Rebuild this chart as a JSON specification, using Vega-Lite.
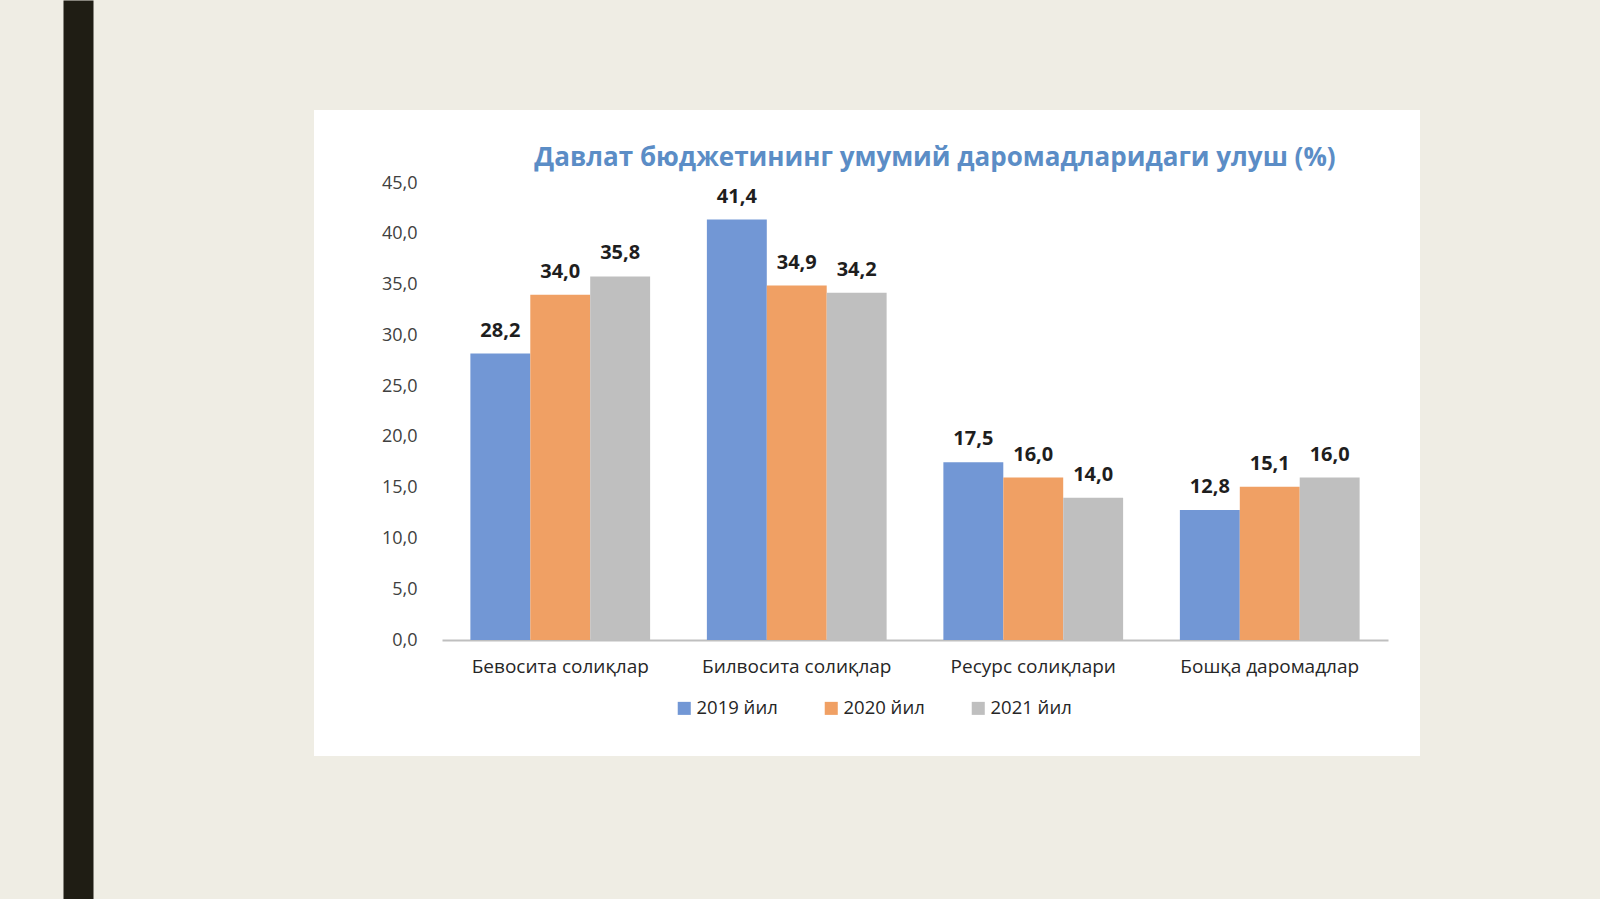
{
  "$schema": "https://vega.github.io/schema/vega-lite/v6.json",
  "description": "Davlat byudjeti daromadlaridagi ulush.",
  "autosize": {"type": "none"},
  "padding": {"left": 314, "top": 110, "right": 180, "bottom": 143},
  "background": "#efede4",
  "width": 1106,
  "height": 646,
  "config": {
    "locale": {
      "number": {"decimal": ",", "thousands": " ", "grouping": [3], "currency": ["", ""]}
    },
    "view": {"fill": "#ffffff", "stroke": null},
    "font": "Open Sans"
  },
  "title": {
    "text": "Давлат бюджетининг умумий даромадларидаги улуш (%)",
    "color": "#5b8dc6",
    "fontSize": 26,
    "fontWeight": "bold",
    "font": "Open Sans",
    "anchor": "middle",
    "dx": 68,
    "baseline": "middle",
    "offset": -187
  },
  "data": {
    "values": [
      {"category": "Бевосита солиқлар", "year": "2019 йил", "value": 28.2},
      {"category": "Бевосита солиқлар", "year": "2020 йил", "value": 34.0},
      {"category": "Бевосита солиқлар", "year": "2021 йил", "value": 35.8},
      {"category": "Билвосита солиқлар", "year": "2019 йил", "value": 41.4},
      {"category": "Билвосита солиқлар", "year": "2020 йил", "value": 34.9},
      {"category": "Билвосита солиқлар", "year": "2021 йил", "value": 34.2},
      {"category": "Ресурс солиқлари", "year": "2019 йил", "value": 17.5},
      {"category": "Ресурс солиқлари", "year": "2020 йил", "value": 16.0},
      {"category": "Ресурс солиқлари", "year": "2021 йил", "value": 14.0},
      {"category": "Бошқа даромадлар", "year": "2019 йил", "value": 12.8},
      {"category": "Бошқа даромадлар", "year": "2020 йил", "value": 15.1},
      {"category": "Бошқа даромадлар", "year": "2021 йил", "value": 16.0}
    ]
  },
  "layer": [
    {
      "layer": [
        {
          "mark": {"type": "bar"},
          "encoding": {
            "color": {
              "field": "year",
              "type": "nominal",
              "scale": {"range": ["#7297d5", "#f0a064", "#bfbfbf"]},
              "legend": {
                "title": null,
                "orient": "none",
                "direction": "horizontal",
                "legendX": 361,
                "legendY": 589,
                "padding": 0,
                "symbolType": "square",
                "symbolSize": 170,
                "symbolStrokeWidth": 0,
                "labelFont": "Open Sans",
                "labelFontSize": 18.5,
                "labelColor": "#262626",
                "labelOffset": 3,
                "columnPadding": 44
              }
            }
          }
        },
        {
          "mark": {"type": "text", "baseline": "middle", "dy": -23, "fontSize": 20, "fontWeight": "bold", "color": "#1e1e1e", "font": "Open Sans"},
          "encoding": {
            "text": {"field": "value", "type": "quantitative", "format": ".1f"}
          }
        }
      ],
      "encoding": {
        "x": {
          "field": "category",
          "type": "nominal",
          "sort": null,
          "scale": {"range": [128, 1074], "paddingInner": 0.24, "paddingOuter": 0.12},
          "axis": {
            "title": null,
            "offset": -116,
            "labelAngle": 0,
            "labelLimit": 0,
            "ticks": false,
            "tickSize": 0,
            "labelPadding": 17,
            "labelFont": "Open Sans",
            "labelFontSize": 19,
            "labelColor": "#262626",
            "domainColor": "#bfbfbf",
            "domainWidth": 2
          }
        },
        "xOffset": {"field": "year", "type": "nominal", "scale": {"paddingInner": 0, "paddingOuter": 0}},
        "y": {
          "field": "value",
          "type": "quantitative",
          "scale": {"domain": [0, 45], "range": [530, 73], "nice": false},
          "axis": {
            "title": null,
            "offset": -128,
            "values": [0, 5, 10, 15, 20, 25, 30, 35, 40, 45],
            "format": ".1f",
            "domain": false,
            "ticks": false,
            "tickSize": 0,
            "grid": false,
            "labelPadding": 25,
            "labelFont": "Open Sans",
            "labelFontSize": 18,
            "labelColor": "#404040"
          }
        }
      }
    },
    {
      "data": {"values": [{"edge": 0}, {"edge": 1}]},
      "mark": {"type": "point", "opacity": 0},
      "encoding": {
        "y": {
          "field": "edge",
          "type": "quantitative",
          "scale": {"domain": [0, 1], "range": [789, -110], "nice": false, "zero": false},
          "axis": {
            "orient": "left",
            "title": null,
            "offset": 236,
            "labels": false,
            "ticks": false,
            "grid": false,
            "domainColor": "#1f1d14",
            "domainWidth": 30
          }
        }
      }
    }
  ],
  "resolve": {"scale": {"y": "independent"}}
}
